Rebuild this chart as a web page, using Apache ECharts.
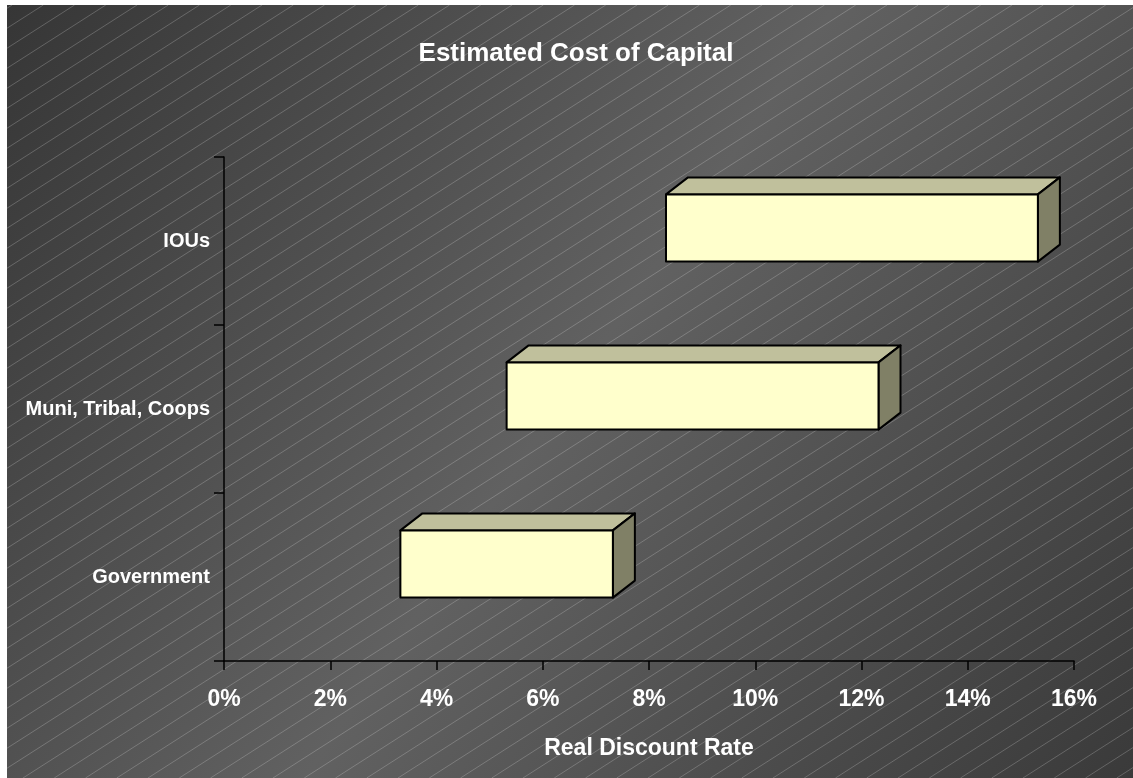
<!DOCTYPE html>
<html>
<head>
<meta charset="utf-8">
<title>Estimated Cost of Capital</title>
<script src="https://cdn.jsdelivr.net/npm/echarts@6/dist/echarts.min.js"></script>
<style>
  html, body { margin: 0; padding: 0; background: #ffffff; }
  #chart { width: 1133px; height: 778px; }
</style>
</head>
<body>
<div id="chart"></div>
<script>
// Ownership categories (bottom to top) and their real discount rate ranges, in percent
const categories = ['Government', 'Muni, Tribal, Coops', 'IOUs'];
const rateLow = [3, 5, 8];
const rateHigh = [7, 12, 15];
const xTicks = [0, 2, 4, 6, 8, 10, 12, 14, 16];

const FONT = '"Liberation Sans", Arial, sans-serif';
const W = 1133, H = 778;

// Panel background: diagonal grey gradient with thin light hatch lines
const bgLeft = 7, bgTop = 5;
const hatchSlope = 0.64, hatchStep = 20, hatchPhase = 12.7;
const hatch = [];
for (let c = hatchPhase; c < H + hatchSlope * W + hatchStep; c += hatchStep) {
  const xa = Math.max(bgLeft, (c - H) / hatchSlope);
  const xb = Math.min(W, (c - bgTop) / hatchSlope);
  if (xa < xb) {
    hatch.push({
      type: 'line',
      silent: true,
      z: -9,
      shape: { x1: xa, y1: c - hatchSlope * xa, x2: xb, y2: c - hatchSlope * xb },
      style: { stroke: 'rgba(235,235,235,0.24)', lineWidth: 1 }
    });
  }
}

const chart = echarts.init(document.getElementById('chart'), null, { renderer: 'canvas' });

// Depth of the 3D boxes: the front face sits slightly back from the axis plane
const FRONT_DX = 17, FRONT_DY = -13;
const DEPTH_DX = 22, DEPTH_DY = -17;

function renderBox(params, api) {
  const cat = api.value(0);
  const p0 = api.coord([api.value(1), cat]);
  const p1 = api.coord([api.value(2), cat]);
  const band = api.size([0, 1])[1];
  const h = band * 0.4;
  const x0 = p0[0] + FRONT_DX, x1 = p1[0] + FRONT_DX;
  const yc = p0[1] + FRONT_DY;
  const top = yc - h / 2, bottom = yc + h / 2;
  const edge = { stroke: '#000000', lineWidth: 2, lineJoin: 'round' };
  return {
    type: 'group',
    children: [
      {
        type: 'polygon',
        shape: { points: [[x0, top], [x1, top], [x1 + DEPTH_DX, top + DEPTH_DY], [x0 + DEPTH_DX, top + DEPTH_DY]] },
        style: Object.assign({ fill: '#C0C09C' }, edge)
      },
      {
        type: 'polygon',
        shape: { points: [[x1, top], [x1 + DEPTH_DX, top + DEPTH_DY], [x1 + DEPTH_DX, bottom + DEPTH_DY], [x1, bottom]] },
        style: Object.assign({ fill: '#808066' }, edge)
      },
      {
        type: 'rect',
        shape: { x: x0, y: top, width: x1 - x0, height: h },
        style: Object.assign({ fill: '#FFFFCC' }, edge)
      }
    ]
  };
}

const boxData = categories.map((c, i) => [i, rateLow[i], rateHigh[i]]);

chart.setOption({
  animation: false,
  backgroundColor: '#ffffff',
  graphic: [
    {
      type: 'rect',
      silent: true,
      z: -10,
      shape: { x: bgLeft, y: bgTop, width: W - bgLeft, height: H - bgTop },
      style: {
        fill: new echarts.graphic.LinearGradient(0, 0, 1, 1, [
          { offset: 0, color: '#363636' },
          { offset: 0.5, color: '#616161' },
          { offset: 1, color: '#3a3a3a' }
        ])
      }
    }
  ].concat(hatch),
  title: {
    text: 'Estimated Cost of Capital',
    left: 576,
    top: 41,
    textAlign: 'center',
    padding: 0,
    textStyle: { color: '#ffffff', fontFamily: FONT, fontWeight: 'bold', fontSize: 26 }
  },
  grid: { left: 224, top: 157, width: 850, height: 504, containLabel: false },
  xAxis: {
    type: 'value',
    min: xTicks[0],
    max: xTicks[xTicks.length - 1],
    interval: 2,
    name: 'Real Discount Rate',
    nameLocation: 'middle',
    nameGap: 76,
    nameTextStyle: { color: '#ffffff', fontFamily: FONT, fontWeight: 'bold', fontSize: 23 },
    axisLine: { show: true, lineStyle: { color: '#000000', width: 1.5 } },
    axisTick: { show: true, inside: false, length: 9, lineStyle: { color: '#000000', width: 1.5 } },
    axisLabel: {
      color: '#ffffff', fontFamily: FONT, fontWeight: 'bold', fontSize: 23, margin: 27,
      formatter: '{value}%'
    },
    splitLine: { show: false }
  },
  yAxis: {
    type: 'category',
    data: categories,
    axisLine: { show: true, lineStyle: { color: '#000000', width: 1.5 } },
    axisTick: { show: true, inside: false, length: 10, alignWithLabel: false, lineStyle: { color: '#000000', width: 1.5 } },
    axisLabel: {
      color: '#ffffff', fontFamily: FONT, fontWeight: 'bold', fontSize: 20, margin: 14,
      padding: [6, 0, 0, 0]
    },
    splitLine: { show: false }
  },
  series: [
    {
      type: 'custom',
      name: 'Real discount rate range',
      renderItem: renderBox,
      encode: { x: [1, 2], y: 0 },
      data: boxData,
      clip: false
    }
  ]
});
</script>
</body>
</html>
